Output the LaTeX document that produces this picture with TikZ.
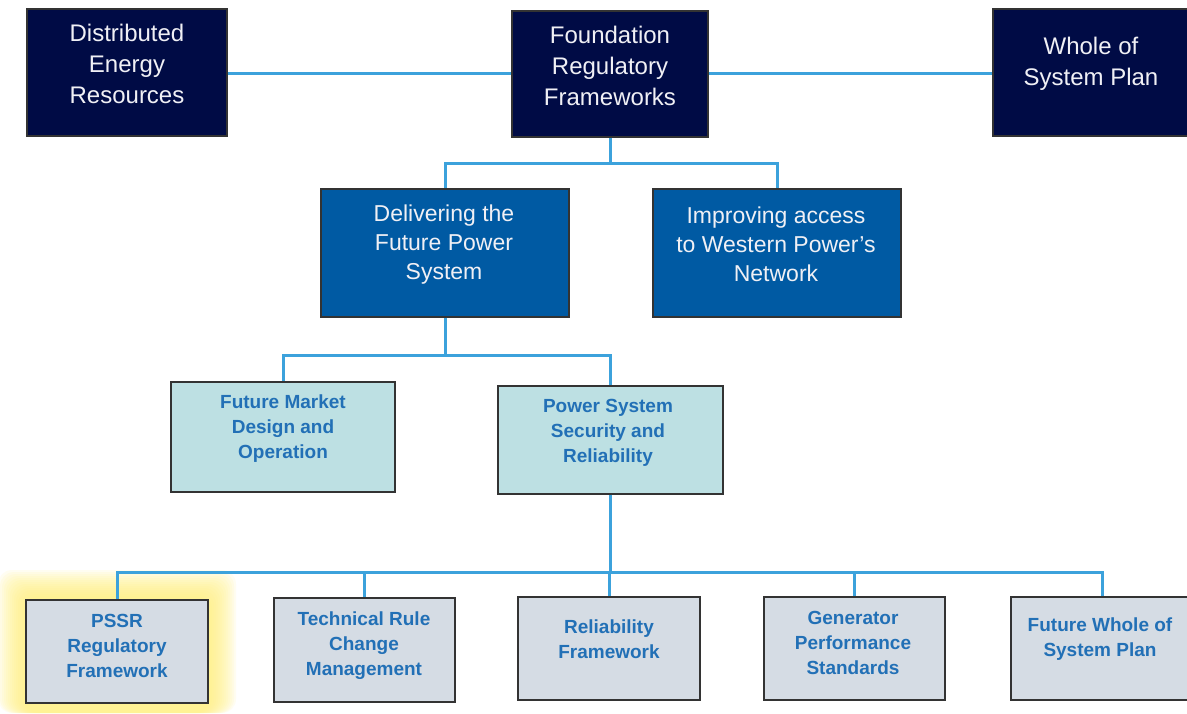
\documentclass[tikz,border=0pt]{standalone}
\usepackage{fontspec}
\setmainfont{Liberation Sans}
\definecolor{navy}{HTML}{000B45}
\definecolor{midblue}{HTML}{005AA3}
\definecolor{teal}{HTML}{BDE0E3}
\definecolor{greybox}{HTML}{D5DCE4}
\definecolor{txtblue}{HTML}{2270B6}
\definecolor{conn}{HTML}{3CA2DC}
\definecolor{glow}{HTML}{FFF27A}
\definecolor{wtxt}{HTML}{F0F0F5}
\tikzset{
  box/.style={draw=black!80, line width=1.2pt, inner sep=0pt},
  topbox/.style={box, fill=navy},
  midbox/.style={box, fill=midblue},
  tealbox/.style={box, fill=teal},
  greyb/.style={box, fill=greybox},
  toptxt/.style={align=center, text=wtxt, font=\fontsize{24}{31}\selectfont},
  midtxt/.style={align=center, text=wtxt, font=\fontsize{23}{29}\selectfont},
  lowtxt/.style={align=center, text=txtblue, font=\bfseries\fontsize{19}{25}\selectfont},
  link/.style={draw=conn, line width=3pt},
}
\begin{document}
\begin{tikzpicture}[x=1pt,y=-1pt]
\useasboundingbox (0,0) rectangle (1187,713);
\fill[white] (0,0) rectangle (1187,713);
% glow
\foreach \i in {0,...,13}{
  \fill[glow, opacity=0.10, rounded corners=14pt] (26-28+2*\i,600-30+2*\i) rectangle (208+28-2*\i,713);
}
% boxes
\node[topbox, minimum width=200pt, minimum height=127pt] (der) at (127,72.5) {};
\node[topbox, minimum width=196pt, minimum height=126pt] (found) at (610,74) {};
\node[topbox, minimum width=199pt, minimum height=127pt] (wosp) at (1092.5,72.5) {};
\node[midbox, minimum width=248pt, minimum height=128pt] (deliv) at (445,253) {};
\node[midbox, minimum width=248pt, minimum height=128pt] (impr) at (777,253) {};
\node[tealbox, minimum width=224pt, minimum height=110pt] (fm) at (283,437) {};
\node[tealbox, minimum width=225pt, minimum height=108pt] (pss) at (610.5,440) {};
\node[greyb, minimum width=182pt, minimum height=103pt] (pssr) at (117,651.5) {};
\node[greyb, minimum width=181pt, minimum height=104pt] (tech) at (364.5,650) {};
\node[greyb, minimum width=182pt, minimum height=103pt] (rel) at (609,648.5) {};
\node[greyb, minimum width=181pt, minimum height=103pt] (gen) at (854.5,648.5) {};
\node[greyb, minimum width=182pt, minimum height=103pt] (fwosp) at (1102,648.5) {};
% texts
\node[toptxt] (der-t) at (127,64) {Distributed\\Energy\\Resources};
\node[toptxt] (found-t) at (610,66) {Foundation\\Regulatory\\Frameworks};
\node[toptxt] (wosp-t) at (1091,63.5) {Whole of\\System Plan};
\node[midtxt] (deliv-t) at (444,245) {Delivering the\\Future Power\\System};
\node[midtxt] (impr-t) at (776,244) {Improving access\\to Western Power's\\Network};
\node[lowtxt] (fm-t) at (283,429) {Future Market\\Design and\\Operation};
\node[lowtxt] (pss-t) at (608,433) {Power System\\Security and\\Reliability};
\node[lowtxt] (pssr-t) at (117,646) {PSSR\\Regulatory\\Framework};
\node[lowtxt] (tech-t) at (364,645.5) {Technical Rule\\Change\\Management};
\node[lowtxt] (rel-t) at (609,639) {Reliability\\Framework};
\node[lowtxt] (gen-t) at (853,643) {Generator\\Performance\\Standards};
\node[lowtxt] (fwosp-t) at (1100,639) {Future Whole of\\System Plan};
% connectors
\coordinate (b1) at (0,163);
\coordinate (b2) at (0,355);
\coordinate (b3) at (0,572);
\draw[link] (der.east |- 0,73) -- (found.west |- 0,73);
\draw[link] (found.east |- 0,73) -- (wosp.west |- 0,73);
\draw[link] (found.south) -- (found.south |- b1) -| (deliv.north);
\draw[link] (found.south |- b1) -| (impr.north);
\draw[link] (deliv.south) -- (deliv.south |- b2) -| (fm.north);
\draw[link] (deliv.south |- b2) -| (pss.north);
\draw[link] (pss.south) -- (pss.south |- b3);
\draw[link] (pss.south |- b3) -| (pssr.north);
\draw[link] (pss.south |- b3) -| (tech.north);
\draw[link] (pss.south |- b3) -| (rel.north);
\draw[link] (pss.south |- b3) -| (gen.north);
\draw[link] (pss.south |- b3) -| (fwosp.north);
\end{tikzpicture}
\end{document}
